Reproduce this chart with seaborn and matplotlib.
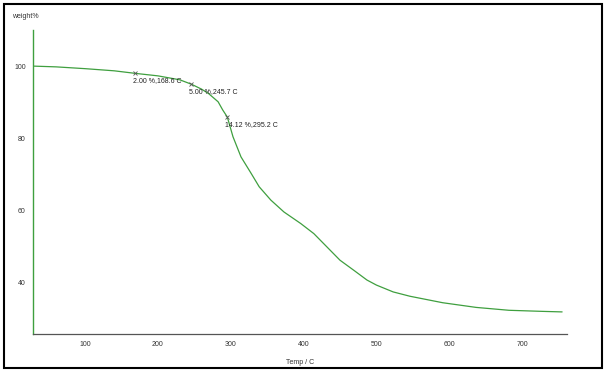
import numpy as np
import pandas as pd
import seaborn as sns
import matplotlib.pyplot as plt
from matplotlib.patches import Rectangle

# TGA curve
temp = [30, 60, 100, 140, 168.6, 200, 230, 245.7, 260, 270, 282.6, 289, 295.2, 303,
        314, 328, 339, 355, 373, 396, 414, 432, 450, 469, 487, 500, 523,
        546, 591, 637, 682, 728, 755]
weight = [100, 99.8, 99.3, 98.7, 98.0, 97.3, 96.2, 95.0, 93.6, 92.3, 90.1, 87.8, 85.88, 80.4,
          74.8, 70.2, 66.5, 62.8, 59.5, 56.3, 53.5, 49.8, 46.1, 43.3, 40.6, 39.2, 37.3,
          36.1, 34.3, 33.0, 32.2, 31.9, 31.75]

# marked points
mark_temp = [168.6, 245.7, 295.2]
mark_loss = [2.00, 5.00, 14.12]

df = pd.DataFrame({'Temp': temp, 'weight': weight})

sns.set_style('white')
plt.rcParams['font.family'] = ['Liberation Sans', 'DejaVu Sans']

fig = plt.figure(figsize=(6.06, 3.72), dpi=100)
ax = fig.add_axes([0.054, 0.102, 0.882, 0.817])

green = '#3f9f3f'
sns.lineplot(data=df, x='Temp', y='weight', ax=ax, color=green, linewidth=0.9)

for t, l in zip(mark_temp, mark_loss):
    w = 100 - l
    ax.plot(t, w, marker='x', ms=2.5, mew=0.6, color='#555555')
    ax.text(t - 3, w - 1.0, '{:.2f} %,{:.1f} C'.format(l, t), fontsize=5,
            color='#222222', ha='left', va='top')

ax.set_xlim(28, 762)
ax.set_ylim(25.6, 110)
ax.set_xticks([100, 200, 300, 400, 500, 600, 700])
ax.set_xticks(np.arange(50, 751, 50), minor=True)
ax.set_yticks([40, 60, 80, 100])
ax.set_yticks(np.arange(30, 111, 10), minor=True)
ax.tick_params(axis='both', which='both', labelsize=5, labelcolor='#333333',
               color='#555555', direction='inout', width=0.6)
ax.tick_params(axis='both', which='major', length=3)
ax.tick_params(axis='both', which='minor', length=2.5)

ax.spines['top'].set_visible(False)
ax.spines['right'].set_visible(False)
ax.spines['left'].set_color(green)
ax.spines['left'].set_linewidth(1.0)
ax.spines['bottom'].set_color('#555555')
ax.spines['bottom'].set_linewidth(0.9)

ax.set_xlabel('Temp / C', fontsize=5, color='#333333', labelpad=8)
ax.set_ylabel('')
fig.text(0.041, 0.955, 'weight%', fontsize=5, color='#333333', ha='center', va='center')

# outer frame
fig.patches.append(Rectangle((0.006, 0.01), 0.988, 0.98, transform=fig.transFigure,
                             fill=False, edgecolor='black', linewidth=1.5))

fig.savefig('out.png', dpi=100)
